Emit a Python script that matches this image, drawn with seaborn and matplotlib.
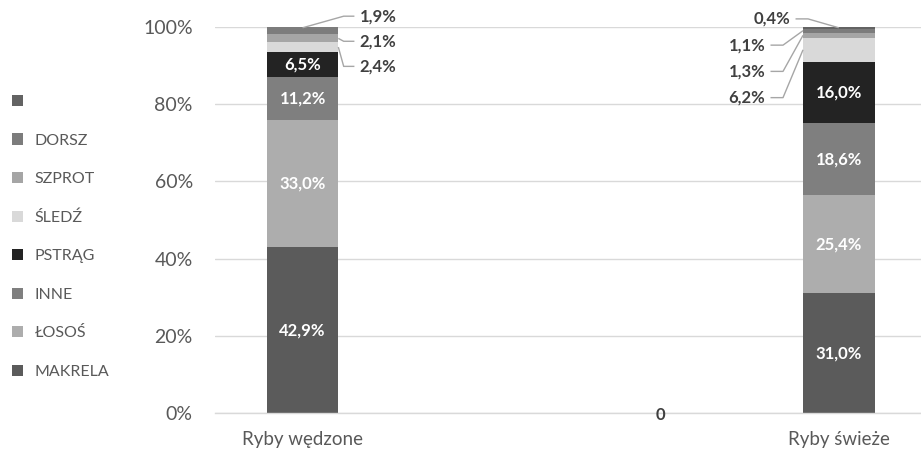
import numpy as np
import matplotlib
matplotlib.use("Agg")
import matplotlib.pyplot as plt
import seaborn as sns
from matplotlib.patches import Patch

# ---- data ----
categories = ["Ryby wędzone", "", "", "Ryby świeże"]
series = ["MAKRELA", "ŁOSOŚ", "INNE", "PSTRĄG", "ŚLEDŹ", "SZPROT", "DORSZ", ""]
makrela = [42.9, 0.0, 0.0, 31.0]
losos = [33.0, 0.0, 0.0, 25.4]
inne = [11.2, 0.0, 0.0, 18.6]
pstrag = [6.5, 0.0, 0.0, 16.0]
sledz = [2.4, 0.0, 0.0, 6.2]
szprot = [2.1, 0.0, 0.0, 1.3]
dorsz = [1.9, 0.0, 0.0, 1.1]
blank = [0.0, 0.0, 0.0, 0.4]
zero_labels = ["", "", "0", ""]
yticks = [0, 20, 40, 60, 80, 100]

colors = ["#5b5b5b", "#adadad", "#7f7f7f", "#232323", "#d9d9d9", "#a5a5a5", "#7c7c7c", "#636363"]

sns.set_theme(style="white")
plt.rcParams["font.family"] = ["Lato", "DejaVu Sans"]

V = np.array([makrela, losos, inne, pstrag, sledz, szprot, dorsz, blank]) / 100.0
cum = np.cumsum(V, axis=0)
nser, ncat = V.shape
keys = [f"c{j}" for j in range(ncat)]

fig = plt.figure(figsize=(9.21, 4.53), dpi=100)
ax = fig.add_axes([215 / 921, 40 / 453, 1 - 215 / 921, (413 - 27) / 453])

BW = 0.4
for i in range(nser - 1, -1, -1):
    sns.barplot(x=keys, y=cum[i], order=keys, color=colors[i], width=BW,
                saturation=1, linewidth=0, ax=ax, zorder=2)

ax.set_xlim(-0.49, 3.46)
ax.set_ylim(0, 1)
ax.set_yticks([t / 100 for t in yticks])
ax.set_yticklabels([f"{t}%" for t in yticks])
ax.set_xticks(range(ncat))
ax.set_xticklabels(categories)
ax.set_xlabel("")
ax.set_ylabel("")
ax.tick_params(axis="y", length=0, pad=16, labelsize=14, labelcolor="#595959")
ax.tick_params(axis="x", length=0, pad=13, labelsize=13.5, labelcolor="#595959")
ax.yaxis.grid(True, color="#d9d9d9", lw=1)
ax.set_axisbelow(True)
for s in ["top", "right", "left"]:
    ax.spines[s].set_visible(False)
ax.spines["bottom"].set_color("#d9d9d9")
ax.spines["bottom"].set_linewidth(1)

fmt = lambda v: f"{v * 100:.1f}%".replace(".", ",")
THR = 0.063
line_kw = dict(color="#a6a6a6", lw=1, solid_capstyle="butt", clip_on=False, zorder=3)
lab_kw = dict(fontsize=12, fontweight="bold", color="#404040", va="center", clip_on=False)

for j in range(ncat):
    for i in range(nser):
        v = V[i, j]
        if v >= THR:
            ax.text(j, cum[i, j] - v / 2, fmt(v), ha="center", va="center",
                    fontsize=12, fontweight="bold", color="white", zorder=4)

# outside labels with leader lines
for j in range(ncat):
    small = [i for i in range(nser) if 0 < V[i, j] < THR][::-1]
    if not small:
        continue
    right = j < ncat / 2
    top_idx = max(i for i in range(nser) if V[i, j] > 0)
    for k, i in enumerate(small):
        ymid = cum[i, j] - V[i, j] / 2
        is_top = i == top_idx
        if right:
            ly = 1.028 - k * 0.065
            tx = j + 0.32
            end = tx - 0.03
            elbow = end - 0.06
            ax_ = (j + 0.0, cum[i, j] - 0.002) if is_top else (j + BW / 2, ymid)
            ax.plot([ax_[0], elbow, end], [ax_[1], ly, ly], **line_kw)
            ax.text(tx, ly, fmt(V[i, j]), ha="left", **lab_kw)
        else:
            ly = 1.021 - k * 0.068
            tx = j - (0.272 if is_top else 0.412)
            start = tx + 0.03
            elbow = start + 0.07
            ax_ = (j + 0.0, cum[i, j] - 0.002) if is_top else (j - BW / 2, ymid)
            ax.plot([start, elbow, ax_[0]], [ly, ly, ax_[1]], **line_kw)
            ax.text(tx, ly, fmt(V[i, j]), ha="right", **lab_kw)

for j, lab in enumerate(zero_labels):
    if lab:
        ax.text(j, -0.005, lab, ha="center", va="center", fontsize=12,
                fontweight="bold", color="#404040", clip_on=False)

handles = [Patch(facecolor=colors[i], edgecolor="none", label=series[i]) for i in range(nser)][::-1]
fig.legend(handles=handles, loc="upper left", bbox_to_anchor=(12 / 921, 1 - 95 / 453),
           frameon=False, fontsize=11.5, labelcolor="#595959", handlelength=0.7,
           handleheight=0.7, handletextpad=0.7, labelspacing=1.52, borderpad=0,
           borderaxespad=0)

fig.savefig("out.png", dpi=100, facecolor="white")
